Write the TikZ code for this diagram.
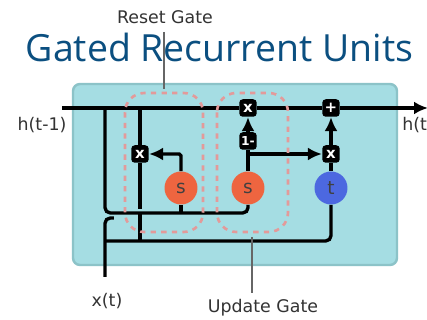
\documentclass[tikz,border=0pt]{standalone}
\usepackage{fontspec}
\setmainfont{DejaVu Sans}
\newfontfamily\titlefont{Open Sans}
\usetikzlibrary{arrows.meta, positioning}
\definecolor{cellfill}{HTML}{A5DDE3}
\definecolor{celledge}{HTML}{8CC3C8}
\definecolor{gatedash}{HTML}{E39A9A}
\definecolor{sigmared}{HTML}{EE6540}
\definecolor{tanhblue}{HTML}{4C68E0}
\definecolor{titleblue}{HTML}{0B4F80}
\begin{document}
\begin{tikzpicture}[x=0.02cm, y=-0.02cm, font=\fontsize{9.9}{11}\selectfont, text=black!80,
  wire/.style={line width=1.9pt, black},
  flow/.style={wire, -{Latex[length=2.8mm, width=2.6mm]}},
  gatebox/.style={draw=gatedash, line width=1.5pt, dash pattern=on 3pt off 3pt, rounded corners=11pt},
  callout/.style={draw=black!60, line width=0.7pt},
  opbox/.style={fill=black, rounded corners=2pt, minimum size=0.35cm, inner sep=0pt, text=white, font=\fontsize{8.5}{9}\selectfont\bfseries},
  layer/.style={circle, minimum size=0.66cm, inner sep=0pt, text=black!75, font=\fontsize{10.5}{11}\selectfont}]
\useasboundingbox (0,0) rectangle (427,320);
\fill[white] (0,0) rectangle (427,320);
\draw[fill=cellfill, draw=celledge, line width=1.4pt, rounded corners=4pt] (73,84) rectangle (397,265);
% nodes
\node[layer, fill=sigmared] (s1) at (181,188) {s};
\node[layer, fill=sigmared] (s2) at (248,188) {s};
\node[layer, fill=tanhblue] (t1) at (331,188) {t};
\node[opbox] (mulA) at (140,154) {x};
\node[opbox] (mulB) at (248,108) {x};
\node[opbox] (mulC) at (331,154) {x};
\node[opbox] (plus) at (331,108) {+};
\node[opbox, font=\fontsize{7}{8}\selectfont\bfseries] (minus) at (248,141) {1-};
\coordinate (hin) at (62,108);
\coordinate (hout) at (428,108);
\coordinate (hdown) at (105,108);
\coordinate (hmul) at (140,108);
\coordinate (xin) at (105,277);
\coordinate (busA) at (105,213);
\coordinate (busB) at (248,213);
\coordinate (busC) at (181,213);
\coordinate (busD) at (105,241);
\coordinate (busE) at (331,241);
\coordinate (busF) at (140,241);
\coordinate (stubA) at (140,209);
\coordinate (stubB) at (140,213);
\coordinate (split) at (248,154);
% wires
\draw[flow] (hin) -- (mulB) -- (plus) -- (hout);
\draw[wire, rounded corners=3pt] (hdown) -- (busA) -- (busB) -- (s2);
\draw[wire] (busC) -- (s1);
\draw[wire, rounded corners=3pt] (xin) -- (105,218) -- (114,218);
\draw[wire, rounded corners=3pt] (busD) -- (busE) -- (t1);
\draw[wire] (hmul) -- (mulA) -- (stubA);
\draw[wire] (stubB) -- (busF);
\draw[flow, rounded corners=1pt] (s1) -- (181,154) -- (mulA);
\draw[wire] (s2) -- (minus);
\draw[flow] (minus) -- (mulB);
\draw[flow] (split) -- (mulC);
\draw[flow] (mulC) -- (plus);
\draw[wire] (t1) -- (mulC);
% gates
\draw[gatebox] (125,93) rectangle (203,232);
\draw[gatebox] (217,93) rectangle (288,232);
% labels
\node (hprev) at (42,125) {h(t-1)};
\node[anchor=west, inner sep=0pt] (hnext) at (402,125) {h(t};
\node (xlabel) at (107,301) {x(t)};
\node (resetlabel) at (165,17) {Reset Gate};
\node (updatelabel) at (263,308) {Update Gate};
\node[font=\fontsize{21.3}{24}\selectfont\titlefont, text=titleblue] (title) at (219.5,47) {Gated Recurrent Units};
\coordinate (resettop) at (164,32);
\coordinate (resetend) at (164,89);
\coordinate (updatetop) at (252,237);
\coordinate (updateend) at (252,293);
\draw[callout] (resettop) -- (resetend);
\draw[callout] (updatetop) -- (updateend);
\end{tikzpicture}
\end{document}
